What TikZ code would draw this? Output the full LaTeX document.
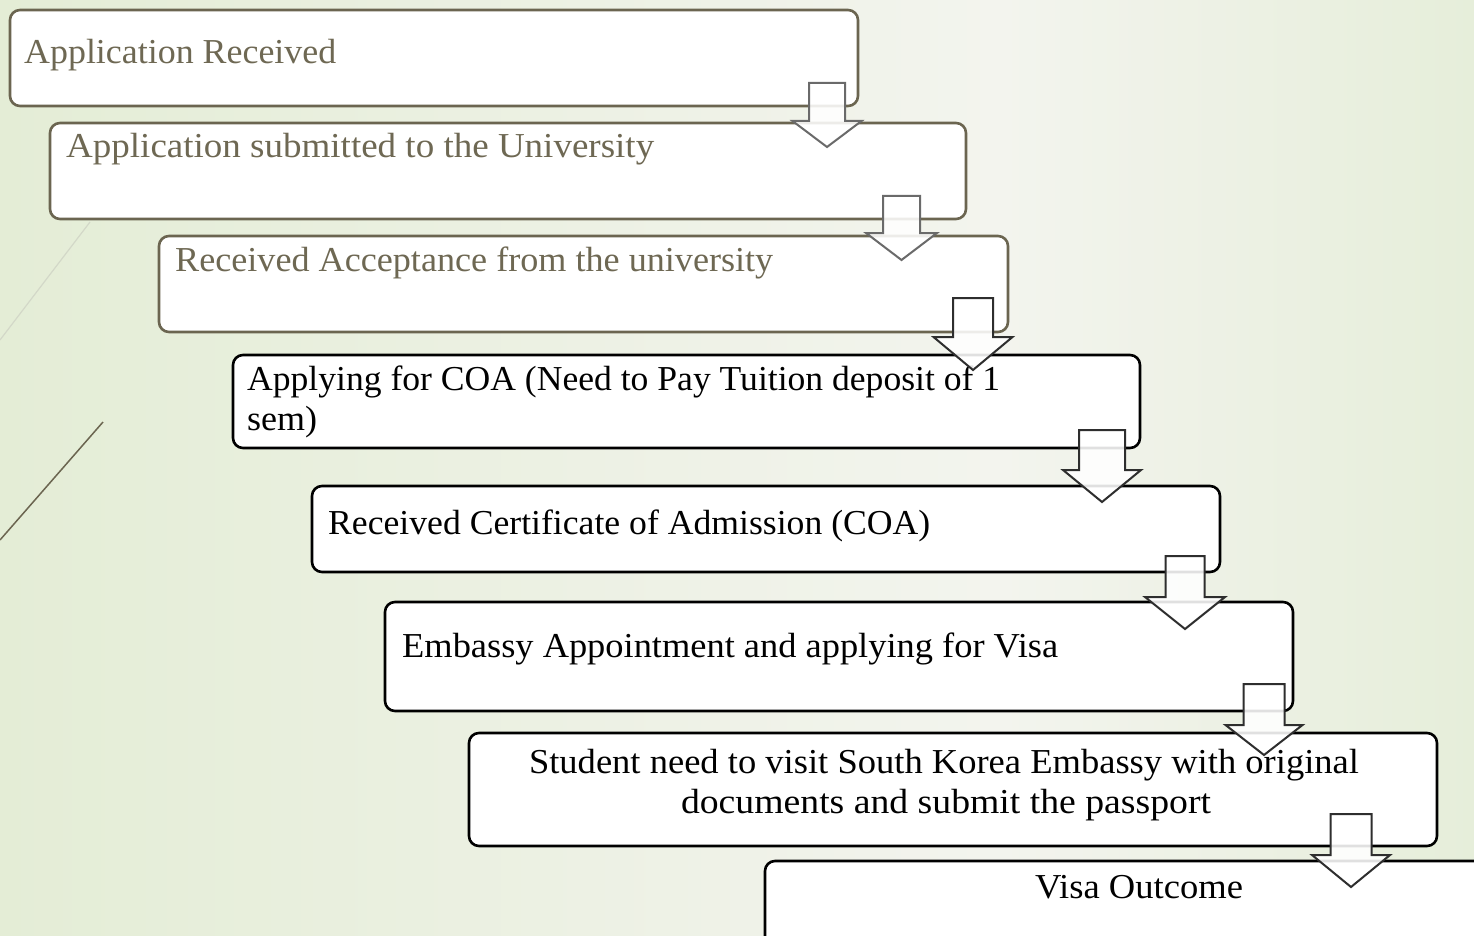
\documentclass[tikz,border=0pt]{standalone}
\usepackage{fontspec}
\setmainfont{Liberation Serif}
\usepackage{graphicx}
\definecolor{olivebr}{HTML}{6B6550}
\definecolor{olivetx}{HTML}{6E6853}
\definecolor{bgA}{HTML}{E4EDD6}
\definecolor{bgB}{HTML}{F3F4EE}
\definecolor{bgC}{HTML}{E6EEDA}
\definecolor{decoA}{HTML}{D3D8C8}
\definecolor{arrA}{HTML}{6A6A6A}
\definecolor{arrB}{HTML}{2E2E2E}
\newlength\fitlen
\newcommand\fitx[2]{\settowidth\fitlen{#2}\pgfmathsetmacro\fitfac{#1/\fitlen}\scalebox{\fitfac}[1]{#2}}
\newcommand\blkarrow[7]{%
  \draw[flowarrow, draw=#1] ({#2-#4},#3) -- ({#2+#4},#3) -- ({#2+#4},#5) -- ({#2+#6},#5) -- (#2,#7) -- ({#2-#6},#5) -- ({#2-#4},#5) -- cycle;}
\begin{document}
\begin{tikzpicture}[x=1pt,y=-1pt,
  stepbox/.style={draw, fill=white, rounded corners=10pt, line width=2.6pt, inner sep=0pt},
  oldbox/.style={stepbox, draw=olivebr},
  newbox/.style={stepbox, draw=black},
  steptext/.style={inner sep=0pt, font=\fontsize{35}{40}\selectfont},
  oldtext/.style={steptext, text=olivetx},
  newtext/.style={steptext, text=black},
  flowarrow/.style={fill=white, fill opacity=0.88, line width=2pt, line join=miter}]
\clip (0,0) rectangle (1474,936);
\useasboundingbox (0,0) rectangle (1474,936);
% background
\shade[left color=bgA, right color=bgB] (0,0) rectangle (1000,936);
\shade[left color=bgB, right color=bgC] (1000,0) rectangle (1474,936);
% decorative strokes
\draw[decoA, line width=1.2pt] (90,222) -- (0,340);
\draw[olivebr, line width=1.5pt] (103,422) -- (0,540);
% boxes
\node[oldbox, minimum width=848pt, minimum height=96pt] (b1) at (434,58) {};
\node[oldbox, minimum width=916pt, minimum height=96pt] (b2) at (508,171) {};
\node[oldbox, minimum width=849pt, minimum height=96pt] (b3) at (583.5,284) {};
\node[newbox, minimum width=907pt, minimum height=93pt] (b4) at (686.5,401.5) {};
\node[newbox, minimum width=908pt, minimum height=86pt] (b5) at (766,529) {};
\node[newbox, minimum width=908pt, minimum height=109pt] (b6) at (839,656.5) {};
\node[newbox, minimum width=968pt, minimum height=113pt] (b7) at (953,789.5) {};
\node[newbox, minimum width=735pt, minimum height=99pt] (b8) at (1132.5,910.5) {};
% texts
\node[oldtext, anchor=base west] (t1) at (24,64) {\fitx{312}{Application Received}};
\node[oldtext, anchor=base west] (t2) at (66,158) {\fitx{588}{Application submitted to the University}};
\node[oldtext, anchor=base west] (t3) at (175,271) {\fitx{598}{Received Acceptance from the university}};
\node[newtext, anchor=base west] (t4a) at (247,390) {\fitx{753}{Applying for COA (Need to Pay Tuition deposit of 1}};
\node[newtext, anchor=base west] (t4b) at (247,430) {\fitx{70}{sem)}};
\node[newtext, anchor=base west] (t5) at (328,534) {\fitx{602}{Received Certificate of Admission (COA)}};
\node[newtext, anchor=base west] (t6) at (402,657) {\fitx{656}{Embassy Appointment and applying for Visa}};
\node[newtext, anchor=base] (t7a) at (944,773) {\fitx{830}{Student need to visit South Korea Embassy with original}};
\node[newtext, anchor=base] (t7b) at (946,813) {\fitx{530}{documents and submit the passport}};
\node[newtext, anchor=base] (t8) at (1139,898) {\fitx{208}{Visa Outcome}};
% block arrows
\blkarrow{arrA}{827}{83}{18}{121}{34.5}{147}
\blkarrow{arrA}{901.5}{196}{18.5}{233}{35.5}{260}
\blkarrow{arrB}{973}{298}{20}{337}{39.5}{370}
\blkarrow{arrB}{1102}{430}{23}{470}{39}{502}
\blkarrow{arrB}{1185}{556}{19.5}{597}{40}{629}
\blkarrow{arrB}{1264}{684}{20.5}{725}{38.5}{755}
\blkarrow{arrB}{1351}{814}{20.5}{855}{39}{887}
\end{tikzpicture}
\end{document}
